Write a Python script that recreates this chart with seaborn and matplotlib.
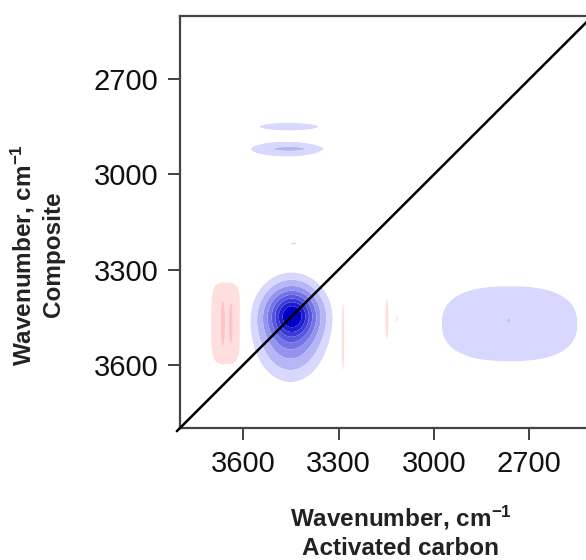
import numpy as np
import pandas as pd
import matplotlib
matplotlib.use("Agg")
import matplotlib.pyplot as plt
import seaborn as sns

# ---- data: correlation peaks (centre in x / y wavenumber, widths, amplitude, shape order) ----
peak_x = [3445, 3452, 3655, 3665, 3640, 3287, 3148, 3117, 2762, 2765, 3457, 3465, 3450, 3442]
peak_y = [3440, 3490, 3470, 3470, 3470, 3505, 3457, 3455, 3471, 3460, 2849, 2920, 2919, 3218]
width_x = [48, 58, 43, 4, 4, 5, 6, 5, 200, 4, 85, 93, 45, 10]
width_y = [48, 80, 118, 50, 45, 124, 74, 20, 111, 8, 11, 20, 5, 4]
amplitude = [-0.74, -0.42, 0.10, 0.08, 0.08, 0.08, 0.08, 0.07, -0.09, -0.05, -0.09, -0.10, -0.06, -0.07]
order = [2, 2, 4, 2, 2, 2, 2, 2, 2.5, 2, 2, 2, 2, 2]

x_ticks = [3600, 3300, 3000, 2700]
y_ticks = [2700, 3000, 3300, 3600]
label_line1 = "Wavenumber, cm$^{\\mathbf{-1}}$"
x_label_line2 = "Activated carbon"
y_label_line2 = "Composite"

levels = [-1.4, -0.92, -0.78, -0.64, -0.5, -0.36, -0.23, -0.12, -0.05, 0.05, 0.12, 0.5]
level_colors = ["#0000c8", "#1e1ecf", "#3a3ad7", "#5656df", "#7474e7", "#9494ef",
                "#b6b6f6", "#d8d8ff", "#ffffff", "#ffdede", "#ffc4c4"]

peaks = pd.DataFrame(dict(x=peak_x, y=peak_y, sx=width_x, sy=width_y, a=amplitude, p=order))

sns.set_style("ticks")
plt.rcParams["font.family"] = ["Liberation Sans", "DejaVu Sans"]
plt.rcParams["mathtext.fontset"] = "custom"
plt.rcParams["mathtext.rm"] = "Liberation Sans"
plt.rcParams["mathtext.bf"] = "Liberation Sans:bold"
plt.rcParams["mathtext.it"] = "Liberation Sans:italic"

fig = plt.figure(figsize=(5.86, 5.60), dpi=100)
ax = fig.add_axes([180 / 586, 132 / 560, 412.7 / 586, 412 / 560])

gx = np.linspace(3800, 2500, 521)
gy = np.linspace(3800, 2500, 521)
X, Y = np.meshgrid(gx, gy)
Z = np.zeros_like(X)
for _, pk in peaks.iterrows():
    u = np.abs((X - pk.x) / pk.sx) ** pk.p
    v = np.abs((Y - pk.y) / pk.sy) ** pk.p
    Z += pk.a * np.exp(-0.5 * (u + v))

ax.contourf(X, Y, Z, levels=levels, colors=level_colors, antialiased=True)

diag = pd.DataFrame(dict(x=[3810, 2500], y=[3810, 2500]))
sns.lineplot(data=diag, x="x", y="y", ax=ax, color="black", lw=1.8, sort=False,
             clip_on=False, zorder=5)

ax.set_xlim(3800, 2500)
ax.set_ylim(3800, 2500)
ax.set_xticks(x_ticks)
ax.set_yticks(y_ticks)
ax.set_xticklabels([str(t) for t in x_ticks])
ax.set_yticklabels([str(t) for t in y_ticks])
ax.set_xlabel("")
ax.set_ylabel("")
ax.tick_params(axis="both", labelsize=21, length=8.5, width=1.3, color="#333333",
               direction="out", pad=7, labelcolor="#111111")
for s in ax.spines.values():
    s.set_color("#444444")
    s.set_linewidth(1.6)

lab = dict(fontsize=17.5, fontweight="bold", color="#222222")
# x-axis label (two lines)
fig.text(401 / 586, 1 - 526 / 560, label_line1, ha="center", va="baseline", **lab)
fig.text(401 / 586, 1 - 555 / 560, x_label_line2, ha="center", va="baseline", **lab)
# y-axis label (two lines, rotated)
fig.text(31 / 586, 1 - 255 / 560, label_line1, ha="center", va="baseline",
         rotation=90, rotation_mode="anchor", **lab)
fig.text(60 / 586, 1 - 254 / 560, y_label_line2, ha="center", va="baseline",
         rotation=90, rotation_mode="anchor", **lab)

fig.savefig("out.png", dpi=100)
